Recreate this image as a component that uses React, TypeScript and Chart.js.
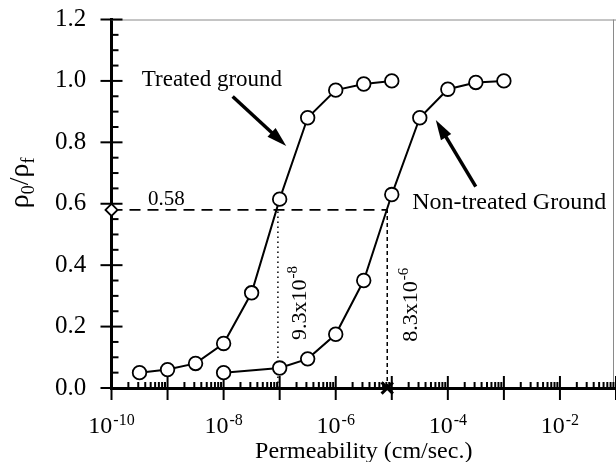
import React, { useEffect, useRef } from 'react';
import { Chart, registerables } from 'chart.js';

Chart.register(...registerables);

// ---- data ----
const TREATED_K = [3.16e-10, 1e-9, 3.16e-9, 1e-8, 3.16e-8, 1e-7, 3.16e-7, 1e-6, 3.16e-6, 1e-5];
const TREATED_RATIO = [0.05, 0.06, 0.08, 0.145, 0.31, 0.615, 0.88, 0.97, 0.99, 1.0];
const UNTREATED_K = [1e-8, 1e-7, 3.16e-7, 1e-6, 3.16e-6, 1e-5, 3.16e-5, 1e-4, 3.16e-4, 1e-3];
const UNTREATED_RATIO = [0.05, 0.065, 0.095, 0.175, 0.35, 0.63, 0.88, 0.973, 0.995, 1.0];
const THRESHOLD_RATIO = 0.58;
const TREATED_K58 = 9.3e-8;
const UNTREATED_K58 = 8.3e-6;
const X_MIN = 1e-10;
const X_MAX = 1e-1;
const Y_MIN = 0;
const Y_MAX = 1.2;
const Y_STEP = 0.2;
const X_LABEL_EXPONENTS = [-10, -8, -6, -4, -2];
const X_TITLE = 'Permeability (cm/sec.)';
const TREATED_LABEL = 'Treated ground';
const UNTREATED_LABEL = 'Non-treated Ground';
const THRESHOLD_LABEL = '0.58';
const TREATED_K58_LABEL = ['9.3x10', '-8'];
const UNTREATED_K58_LABEL = ['8.3x10', '-6'];

// annotation anchors in data space
const TREATED_LABEL_AT = { x: 3.47e-10, y: 0.982 };
const UNTREATED_LABEL_AT = { x: 2.32e-5, y: 0.582 };
const THRESHOLD_LABEL_AT = { x: 4.47e-10, y: 0.596 };
const TREATED_K58_LABEL_AT = { x: 2.97e-7, y: 0.156 };
const UNTREATED_K58_LABEL_AT = { x: 2.84e-5, y: 0.151 };
const TREATED_ARROW = { from: { x: 1.45e-8, y: 0.949 }, to: { x: 1.31e-7, y: 0.788 } };
const UNTREATED_ARROW = { from: { x: 3.15e-4, y: 0.656 }, to: { x: 6.1e-5, y: 0.873 } };

const SERIF = "'Liberation Serif', 'Times New Roman', serif";

function line(ctx: CanvasRenderingContext2D, x1: number, y1: number, x2: number, y2: number) {
  ctx.beginPath();
  ctx.moveTo(x1, y1);
  ctx.lineTo(x2, y2);
  ctx.stroke();
}

function arrow(ctx: CanvasRenderingContext2D, x1: number, y1: number, x2: number, y2: number) {
  const ang = Math.atan2(y2 - y1, x2 - x1);
  const headLen = 20;
  const headHalf = 6;
  const bx = x2 - Math.cos(ang) * (headLen - 2);
  const by = y2 - Math.sin(ang) * (headLen - 2);
  ctx.lineWidth = 3.5;
  line(ctx, x1, y1, bx, by);
  ctx.beginPath();
  ctx.moveTo(x2, y2);
  const cx = x2 - Math.cos(ang) * headLen;
  const cy = y2 - Math.sin(ang) * headLen;
  ctx.lineTo(cx + Math.sin(ang) * headHalf, cy - Math.cos(ang) * headHalf);
  ctx.lineTo(cx - Math.sin(ang) * headHalf, cy + Math.cos(ang) * headHalf);
  ctx.closePath();
  ctx.fill();
}

const decorPlugin = {
  id: 'decor',
  beforeDatasetsDraw(chart: any) {
    const { ctx, chartArea: a, scales } = chart;
    const x = scales.x;
    const y = scales.y;
    ctx.save();
    // frame (top/right)
    ctx.strokeStyle = '#8a8a8a';
    ctx.lineWidth = 1;
    line(ctx, a.left, a.top + 0.5, a.right, a.top + 0.5);
    line(ctx, a.right - 2.5, a.top, a.right - 2.5, a.bottom);
    // x ticks
    ctx.strokeStyle = '#000';
    ctx.lineWidth = 2;
    for (let e = -10; e <= -1; e++) {
      const px = x.getPixelForValue(Math.pow(10, e));
      line(ctx, px, a.bottom - 12, px, a.bottom + 12);
      if (e <= -2) {
        for (let m = 2; m <= 9; m++) {
          const p = x.getPixelForValue(m * Math.pow(10, e));
          line(ctx, p, a.bottom - 6, p, a.bottom);
        }
      }
    }
    // y ticks
    for (let i = 0; i <= 24; i++) {
      const py = y.getPixelForValue(i * 0.05);
      if (i % 4 === 0) line(ctx, a.left - 11, py, a.left + 11, py);
      else line(ctx, a.left, py, a.left + 7, py);
    }
    // x tick labels 10^e
    ctx.fillStyle = '#000';
    ctx.textBaseline = 'alphabetic';
    ctx.textAlign = 'left';
    for (const e of X_LABEL_EXPONENTS) {
      const px = x.getPixelForValue(Math.pow(10, e));
      ctx.font = `24px ${SERIF}`;
      const w1 = ctx.measureText('10').width;
      ctx.font = `16px ${SERIF}`;
      const sup = String(e);
      const w2 = ctx.measureText(sup).width;
      const start = px - (w1 + w2 + 1) / 2;
      ctx.font = `24px ${SERIF}`;
      ctx.fillText('10', start, a.bottom + 45);
      ctx.font = `16px ${SERIF}`;
      ctx.fillText(sup, start + w1 + 1, a.bottom + 37);
    }
    // y title rho0/rhof
    ctx.save();
    ctx.translate(a.left - 84, y.getPixelForValue(0.668));
    ctx.rotate(-Math.PI / 2);
    const parts: [string, number, number][] = [
      ['\u03C1', 28, 0],
      ['0', 18, 6],
      ['/', 28, 0],
      ['\u03C1', 28, 0],
      ['f', 18, 6],
    ];
    let total = 0;
    for (const [t, s] of parts) {
      ctx.font = `${s}px ${SERIF}`;
      total += ctx.measureText(t).width;
    }
    let cx = -total / 2;
    for (const [t, s, off] of parts) {
      ctx.font = `${s}px ${SERIF}`;
      ctx.fillText(t, cx, off);
      cx += ctx.measureText(t).width;
    }
    ctx.restore();
    ctx.restore();
  },
  afterDatasetsDraw(chart: any) {
    const { ctx, scales } = chart;
    const x = scales.x;
    const y = scales.y;
    const P = (pt: { x: number; y: number }) => [x.getPixelForValue(pt.x), y.getPixelForValue(pt.y)];
    ctx.save();
    ctx.fillStyle = '#000';
    ctx.strokeStyle = '#000';
    ctx.textBaseline = 'alphabetic';
    ctx.textAlign = 'left';
    ctx.font = `23px ${SERIF}`;
    let [px, py] = P(TREATED_LABEL_AT);
    ctx.fillText(TREATED_LABEL, px, py);
    ctx.font = `24px ${SERIF}`;
    [px, py] = P(UNTREATED_LABEL_AT);
    ctx.fillText(UNTREATED_LABEL, px, py);
    ctx.font = `21px ${SERIF}`;
    [px, py] = P(THRESHOLD_LABEL_AT);
    ctx.fillText(THRESHOLD_LABEL, px, py);
    // rotated labels
    const rot = (at: { x: number; y: number }, lab: string[]) => {
      const [rx, ry] = P(at);
      ctx.save();
      ctx.translate(rx, ry);
      ctx.rotate(-Math.PI / 2);
      ctx.font = `22px ${SERIF}`;
      ctx.fillText(lab[0], 0, 0);
      const w = ctx.measureText(lab[0]).width;
      ctx.font = `15px ${SERIF}`;
      ctx.fillText(lab[1], w + 1, -9);
      ctx.restore();
    };
    rot(TREATED_K58_LABEL_AT, TREATED_K58_LABEL);
    rot(UNTREATED_K58_LABEL_AT, UNTREATED_K58_LABEL);
    // arrows
    let [ax, ay] = P(TREATED_ARROW.from);
    let [bx, by] = P(TREATED_ARROW.to);
    arrow(ctx, ax, ay, bx, by);
    [ax, ay] = P(UNTREATED_ARROW.from);
    [bx, by] = P(UNTREATED_ARROW.to);
    arrow(ctx, ax, ay, bx, by);
    ctx.restore();
  },
};

export default function App() {
  const ref = useRef<HTMLCanvasElement | null>(null);
  useEffect(() => {
    if (!ref.current) return;
    const seriesStyle = {
      borderColor: '#000',
      borderWidth: 2,
      pointRadius: 6.8,
      pointBackgroundColor: '#fff',
      pointBorderColor: '#000',
      pointBorderWidth: 1.8,
      showLine: true,
      tension: 0,
    };
    const chart = new Chart(ref.current, {
      type: 'line',
      data: {
        datasets: [
          {
            label: TREATED_LABEL,
            data: TREATED_K.map((k, i) => ({ x: k, y: TREATED_RATIO[i] })),
            ...seriesStyle,
          },
          {
            label: UNTREATED_LABEL,
            data: UNTREATED_K.map((k, i) => ({ x: k, y: UNTREATED_RATIO[i] })),
            ...seriesStyle,
          },
          {
            label: 'threshold',
            data: [
              { x: X_MIN, y: THRESHOLD_RATIO },
              { x: UNTREATED_K58, y: THRESHOLD_RATIO },
            ],
            borderColor: '#000',
            borderWidth: 1.6,
            borderDash: [11, 7],
            pointStyle: 'rectRot',
            pointRadius: [6, 0],
            pointBackgroundColor: '#fff',
            pointBorderColor: '#000',
            pointBorderWidth: 1.8,
            clip: false,
          } as any,
          {
            label: 'treated k',
            data: [
              { x: TREATED_K58, y: Y_MIN },
              { x: TREATED_K58, y: THRESHOLD_RATIO },
            ],
            borderColor: '#000',
            borderWidth: 1.5,
            borderDash: [1.5, 3.5],
            pointRadius: 0,
          },
          {
            label: 'untreated k',
            data: [
              { x: UNTREATED_K58, y: Y_MIN },
              { x: UNTREATED_K58, y: THRESHOLD_RATIO },
            ],
            borderColor: '#000',
            borderWidth: 1.5,
            borderDash: [4, 3],
            pointStyle: 'crossRot',
            pointRadius: [8, 0],
            pointBorderColor: '#000',
            pointBorderWidth: 3,
            clip: false,
          } as any,
        ],
      },
      options: {
        responsive: false,
        animation: false,
        devicePixelRatio: 1,
        layout: { padding: { top: 19.5, right: 2.7, left: 55, bottom: 0 } },
        plugins: { legend: { display: false }, tooltip: { enabled: false } },
        scales: {
          x: {
            type: 'logarithmic',
            min: X_MIN,
            max: X_MAX,
            grid: { display: false, drawTicks: false },
            ticks: { display: false },
            border: { display: true, color: '#000', width: 3 },
            title: {
              display: true,
              text: X_TITLE,
              color: '#000',
              font: { family: SERIF, size: 24, lineHeight: 0.87 },
              padding: 0,
            },
            afterFit: (s: any) => {
              s.height = 74;
            },
          },
          y: {
            type: 'linear',
            min: Y_MIN,
            max: Y_MAX,
            grid: { display: false, drawTicks: false },
            ticks: {
              stepSize: Y_STEP,
              color: '#000',
              padding: 0,
              crossAlign: 'far',
              font: { family: SERIF, size: 25 },
              callback: (v: any) => Number(v).toFixed(1),
            },
            border: { display: true, color: '#000', width: 3 },
            afterFit: (s: any) => {
              s.width = 56.5;
            },
          },
        },
      } as any,
      plugins: [decorPlugin],
    });
    return () => chart.destroy();
  }, []);
  return (
    <div
      style={{
        position: 'fixed',
        left: 0,
        top: 0,
        width: 616,
        height: 462,
        overflow: 'hidden',
        background: '#fff',
      }}
    >
      <canvas ref={ref} width={627} height={462} style={{ display: 'block', width: 627, height: 462 }} />
    </div>
  );
}
